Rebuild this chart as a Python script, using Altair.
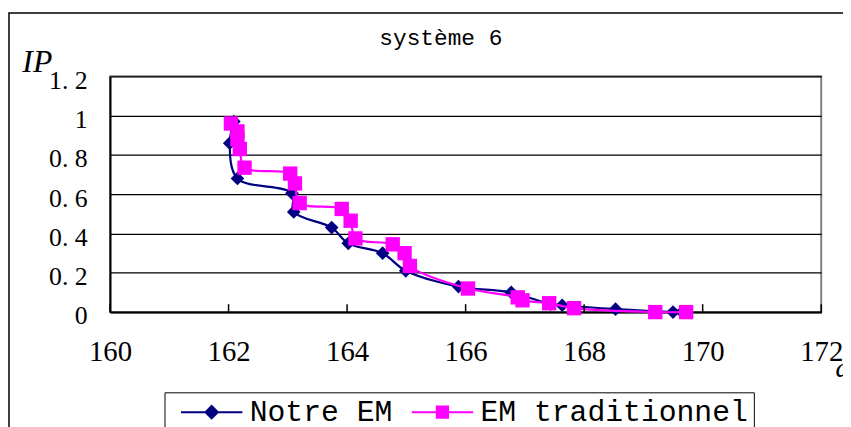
import altair as alt
import pandas as pd

series_names = ["Notre EM", "EM traditionnel"]
series_colors = ["#000080", "#ff00ff"]

x_notre = [162.09, 162.02, 162.15, 163.07, 163.10, 163.74, 164.02, 164.60, 164.99,
           165.88, 166.77, 167.43, 167.63, 168.53, 169.50, 169.65]
y_notre = [0.97, 0.86, 0.68, 0.605, 0.51, 0.43, 0.35, 0.30, 0.21,
           0.13, 0.10, 0.04, 0.035, 0.015, 0.0, 0.0]

x_trad = [162.04, 162.15, 162.15, 162.19, 162.27, 163.04, 163.12, 163.20, 163.91,
          164.06, 164.14, 164.77, 164.97, 165.06, 166.04, 166.88, 166.96, 167.41,
          167.83, 169.20, 169.72]
y_trad = [0.96, 0.92, 0.88, 0.83, 0.735, 0.705, 0.655, 0.555, 0.525,
          0.465, 0.375, 0.345, 0.30, 0.235, 0.12, 0.075, 0.06, 0.045,
          0.02, 0.0, 0.0]

x_ticks = [160, 162, 164, 166, 168, 170, 172]
y_ticks = [0, 0.2, 0.4, 0.6, 0.8, 1.0, 1.2]

rows = []
for i, (a, b) in enumerate(zip(x_notre, y_notre)):
    rows.append({"x": a, "y": b, "series": series_names[0], "order": i})
for i, (a, b) in enumerate(zip(x_trad, y_trad)):
    rows.append({"x": a, "y": b, "series": series_names[1], "order": i})
df = pd.DataFrame(rows)
tick_df = pd.DataFrame({"t": x_ticks})
one_df = pd.DataFrame({"a": [0]})

W, H = 718, 238
SERIF = "'Liberation Serif', 'DejaVu Serif', 'Times New Roman', serif"
MONO = "'Liberation Mono', 'DejaVu Sans Mono', monospace"

xs = alt.Scale(domain=[160, 172], nice=False, zero=False)
ys = alt.Scale(domain=[0, 1.2], nice=False, zero=True)

x_axis = alt.Axis(values=x_ticks, format="d", tickSize=0, labelFont=SERIF,
                  labelFontSize=29, labelPadding=26, labelColor="black",
                  domainColor="black", domainWidth=2, grid=False, labelFlush=False,
                  labelOverlap=False, title="d", titleFont=SERIF,
                  titleFontStyle="italic", titleFontWeight="normal", titleFontSize=28,
                  titleColor="black", titleX=732, titleY=65, titleAlign="left",
                  titleBaseline="alphabetic")
y_axis = alt.Axis(values=y_ticks, tickSize=0,
                  labelExpr="replace(format(datum.value, '~g'), '.', '. ')",
                  labelFont=SERIF, labelFontSize=26, labelPadding=23,
                  labelColor="black", labelOffset=4, labelFlush=False, labelOverlap=False,
                  domainColor="black", domainWidth=2, grid=True, gridColor="black",
                  gridWidth=1.3, title="IP", titleFont=SERIF,
                  titleFontStyle="italic", titleFontWeight="normal", titleFontSize=32,
                  titleColor="black", titleAngle=0, titleX=-89, titleY=-5,
                  titleAlign="left", titleBaseline="alphabetic")

border = alt.Chart(one_df).mark_rect(filled=False, stroke="black", strokeWidth=1.5).encode(
    x=alt.value(-102), x2=alt.value(1000), y=alt.value(-64), y2=alt.value(600))

ticks = alt.Chart(tick_df).mark_rule(color="black", strokeWidth=1.5).encode(
    x=alt.X("t:Q", scale=xs, axis=x_axis), y=alt.value(H), y2=alt.value(H - 8))

layers = [border]
shapes = ["diamond", "square"]
sizes = [190, 210]
for name, col, shp, sz in zip(series_names, series_colors, shapes, sizes):
    base = alt.Chart(df).transform_filter(alt.datum.series == name)
    line = base.mark_line(color=col, strokeWidth=2.2, interpolate="catmull-rom").encode(
        x=alt.X("x:Q", scale=xs, axis=x_axis),
        y=alt.Y("y:Q", scale=ys, axis=y_axis),
        order="order:Q")
    pts = base.mark_point(shape=shp, filled=True, size=sz, color=col, opacity=1).encode(
        x=alt.X("x:Q", scale=xs, axis=x_axis),
        y=alt.Y("y:Q", scale=ys, axis=y_axis))
    layers += [line, pts]
layers.append(ticks)

path_notre = "M-0.32,0H5.67M2.67,-0.6L3.27,0L2.67,0.6L2.07,0Z"
path_trad = "M-0.32,0H5.67M2.12,-0.55H3.22V0.55H2.12Z"

leg = alt.Legend(title=None, orient="none", legendX=55, legendY=319, direction="horizontal",
                 columns=2, padding=5, strokeColor="black", fillColor="white",
                 labelFont=MONO, labelFontSize=30, labelColor="black",
                 labelLimit=600, labelOffset=51, symbolSize=428, symbolStrokeWidth=2,
                 columnPadding=7, symbolOpacity=1)
dummy = alt.Chart(df).transform_filter("false").mark_point(
    filled=False, opacity=1, size=428, strokeWidth=2).encode(
    color=alt.Color("series:N", scale=alt.Scale(domain=series_names, range=series_colors), legend=leg),
    fill=alt.Fill("series:N", scale=alt.Scale(domain=series_names, range=series_colors), legend=leg),
    shape=alt.Shape("series:N", scale=alt.Scale(domain=series_names, range=[path_notre, path_trad]), legend=leg))
layers.append(dummy)

chart = alt.layer(*layers).properties(
    width=W, height=H,
    title=alt.Title("système 6", font=MONO, fontSize=23, fontWeight="normal",
                    color="black", anchor="middle", dx=-25, dy=56, offset=0,
                    baseline="alphabetic", frame="group"),
    autosize=alt.AutoSizeParams(type="none"),
    padding={"left": 103, "top": 67, "right": 22, "bottom": 114},
    background="white",
).configure_view(fill="#c0c0c0", stroke="#808080", strokeWidth=2)

chart.save("out.html", embed_options={"renderer": "svg", "actions": False})
